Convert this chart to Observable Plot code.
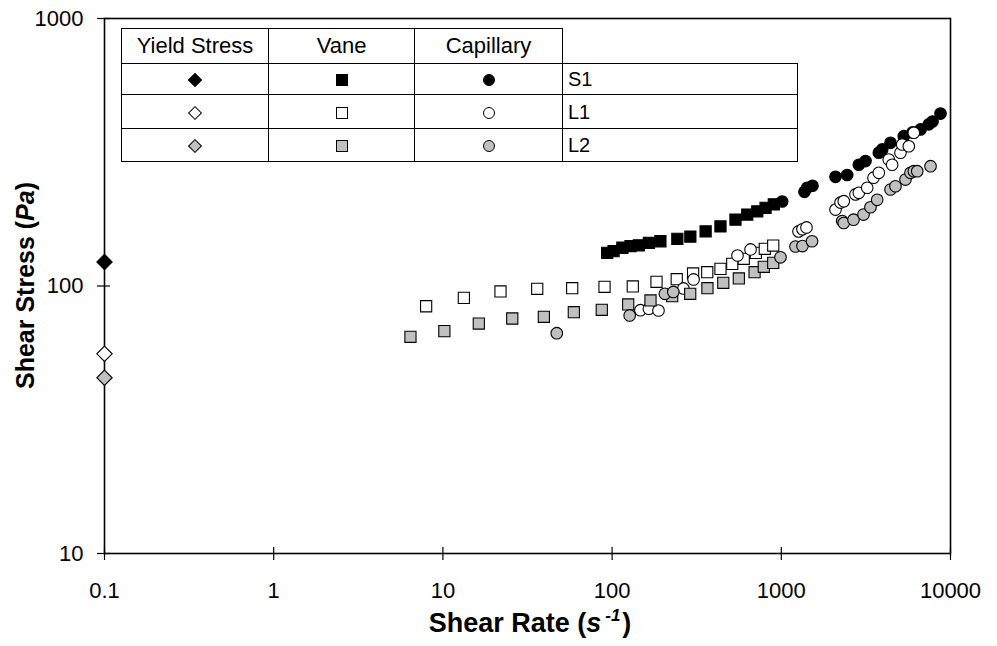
<!DOCTYPE html>
<html><head><meta charset="utf-8">
<script src="https://cdn.jsdelivr.net/npm/d3@7"></script>
<script src="https://cdn.jsdelivr.net/npm/@observablehq/plot@0.6"></script>
<style>
body{margin:0;background:#fff;font-family:"Liberation Sans",Arial,sans-serif;}
#wrap{position:relative;width:997px;height:646px;overflow:hidden;}
#legend{position:absolute;left:121px;top:28px;border-collapse:collapse;table-layout:fixed;background:#fff;font-size:22px;color:#000;}
#legend td{border:1.3px solid #000;padding:0;text-align:center;vertical-align:middle;line-height:1;}
#legend td.lab{text-align:left;padding-left:5px;font-size:20px;}
#legend td.blank{border-top:none;border-right:none;background:transparent;}
.mk{display:inline-block;box-sizing:border-box;border:1px solid #000;vertical-align:middle;}
.mk.dia{width:10px;height:10px;transform:rotate(45deg);}
.mk.sq{width:12px;height:12px;}
.mk.ci{width:12px;height:12px;border-radius:50%;}
</style>
</head><body>
<div id="wrap"></div>
<script>
// ---- data ----
const samples = ["S1", "L1", "L2"];
const methods = ["Yield Stress", "Vane", "Capillary"];
const xTicks = [0.1, 1, 10, 100, 1000, 10000];
const xTickLabels = ["0.1", "1", "10", "100", "1000", "10000"];
const yTicks = [10, 100, 1000];
const yTickLabels = ["10", "100", "1000"];

const yieldRate = 0.1;
const yieldStress = [123, 55.8, 45.4]; // S1, L1, L2

const vaneS1Rate = [93.5,102,115,128.5,144,165,193,243,290,357,437,536,629,721,807,903];
const vaneS1Stress = [133,135,139,141,142,145,147,150,153,160,167,177,185,190,196,202];
const capS1Rate = [1012,1371,1422,1529,2091,2451,2872,3145,3770,3948,4420,5297,5960,6650,7444,7830,8730];
const capS1Stress = [207,225,233,237,256,260,284,293,315,324,343,363,375,385,402,412,441];

const vaneL1Rate = [7.96,13.3,21.9,36.1,58.1,90.2,132.5,183,241,301,365,437,513,600,707,799,896];
const vaneL1Stress = [84.0,90.3,95.4,97.6,98.1,99.3,99.6,103.7,106,111.4,112.6,115.9,121,126.4,133,137.7,141.7];
const capL1Rate = [147,165,188,264,303,551,658,1264,1334,1409,2091,2239,2340,2745,2872,3220,3508,3770,4316,4520,5063,5181,5670,6070];
const capL1Stress = [81.2,82.2,81.0,97.9,105.8,130,137,160,163,165.5,193,205,207.5,220,223,233,254,265,297,284,315,338,333,374];

const vaneL2Rate = [6.43,10.2,16.3,25.7,39.5,59.4,86.9,124.5,168.6,226.5,289.5,366,454,561,695,788,896];
const vaneL2Stress = [64.6,67.8,72.4,75.6,76.7,79.8,81.5,85.3,88.3,91.6,93.5,98.1,102.8,106.7,112.6,118,122];
const capL2Rate = [47.1,127,205,230,989,1213,1334,1519,2291,2340,2671,3062,3365,3687,4420,4730,5420,5800,6070,6360,7620];
const capL2Stress = [66.6,77.6,93.5,95,128,140.5,141,147,175,172,177,185,197,210,229.5,236,250,265,268.6,268.6,280.5];

// ---- styles ----
const sampleFill = {S1: "#000000", L1: "#ffffff", L2: "#c0c0c0"};
const W = 997, H = 646, mL = 104, mR = 47, mT = 18, mB = 93;
const fw = W - mL - mR, fh = H - mT - mB;
const FONT = "Liberation Sans, Arial, sans-serif";

const zip = (xs, ys) => xs.map((x, i) => ({x, y: ys[i]}));
const series = {
  S1: {vane: zip(vaneS1Rate, vaneS1Stress), cap: zip(capS1Rate, capS1Stress)},
  L1: {vane: zip(vaneL1Rate, vaneL1Stress), cap: zip(capL1Rate, capL1Stress)},
  L2: {vane: zip(vaneL2Rate, vaneL2Stress), cap: zip(capL2Rate, capL2Stress)}
};

const dotMarks = [];
samples.forEach((s, i) => {
  const fill = sampleFill[s];
  dotMarks.push(Plot.dot([{x: yieldRate, y: yieldStress[i]}], {x: "x", y: "y", symbol: "diamond2", r: 6.9, fill, stroke: "#000", strokeWidth: 1.1}));
  dotMarks.push(Plot.dot(series[s].vane, {x: "x", y: "y", symbol: "square", r: 6.3, fill, stroke: "#000", strokeWidth: 1.1}));
  dotMarks.push(Plot.dot(series[s].cap, {x: "x", y: "y", symbol: "circle", r: 5.8, fill, stroke: "#000", strokeWidth: 1.1}));
});

const xLab = new Map(xTicks.map((t, i) => [t, xTickLabels[i]]));
const yLab = new Map(yTicks.map((t, i) => [t, yTickLabels[i]]));

const chart = Plot.plot({
  width: W, height: H,
  marginLeft: mL, marginRight: mR, marginTop: mT, marginBottom: mB,
  style: {fontFamily: FONT, fontSize: "22px", color: "#000", background: "#fff", overflow: "visible"},
  x: {type: "log", domain: [0.1, 10000]},
  y: {type: "log", domain: [10, 1000]},
  marks: [
    Plot.axisX(xTicks, {tickSize: 0, tickPadding: 0, dy: 29, tickFormat: d => xLab.get(d), label: null, fontSize: 22}),
    Plot.axisY(yTicks, {tickSize: 0, tickPadding: 0, dx: -21, tickFormat: d => yLab.get(d), label: null, fontSize: 22}),
    Plot.tickX(xTicks, {x: d => d, stroke: "#000", strokeWidth: 1.2, insetTop: fh - 6, insetBottom: -7}),
    Plot.tickY(yTicks, {y: d => d, stroke: "#000", strokeWidth: 1.2, insetLeft: -7, insetRight: fw - 6}),
    Plot.frame({stroke: "#000", strokeWidth: 1.6}),
    ...dotMarks
  ]
});

const svg = d3.select(chart);
const xt = svg.append("text")
  .attr("x", mL + fw / 2 + 3).attr("y", 632)
  .attr("text-anchor", "middle").attr("font-weight", "bold").attr("font-size", 27)
  .attr("font-family", FONT).attr("fill", "#000");
xt.append("tspan").text("Shear Rate (");
xt.append("tspan").attr("font-style", "italic").text("s");
xt.append("tspan").attr("font-style", "italic").attr("font-size", 17).attr("dy", -11).attr("dx", 4).text("-1");
xt.append("tspan").attr("dy", 11).attr("dx", 2).text(")");

const yt = svg.append("text")
  .attr("transform", `translate(34,${mT + fh / 2}) rotate(-90)`)
  .attr("text-anchor", "middle").attr("font-weight", "bold").attr("font-size", 25)
  .attr("font-family", FONT).attr("fill", "#000");
yt.append("tspan").text("Shear Stress (");
yt.append("tspan").attr("font-style", "italic").text("Pa");
yt.append("tspan").text(")");

const wrap = document.getElementById("wrap");
wrap.appendChild(chart);

// ---- legend table ----
const colW = [147, 146, 148, 235];
const rowH = [35, 31, 34, 33];
const shapeCls = ["dia", "sq", "ci"];
const table = document.createElement("table");
table.id = "legend";
const cg = document.createElement("colgroup");
colW.forEach(w => { const c = document.createElement("col"); c.style.width = w + "px"; cg.appendChild(c); });
table.appendChild(cg);
const hr = document.createElement("tr");
hr.style.height = rowH[0] + "px";
methods.forEach(m => { const td = document.createElement("td"); td.textContent = m; hr.appendChild(td); });
const blank = document.createElement("td"); blank.className = "blank"; hr.appendChild(blank);
table.appendChild(hr);
samples.forEach((s, i) => {
  const tr = document.createElement("tr");
  tr.style.height = rowH[i + 1] + "px";
  shapeCls.forEach(cls => {
    const td = document.createElement("td");
    const sp = document.createElement("span");
    sp.className = "mk " + cls;
    sp.style.background = sampleFill[s];
    td.appendChild(sp);
    tr.appendChild(td);
  });
  const lab = document.createElement("td"); lab.className = "lab"; lab.textContent = s; tr.appendChild(lab);
  table.appendChild(tr);
});
wrap.appendChild(table);
</script>
</body></html>
